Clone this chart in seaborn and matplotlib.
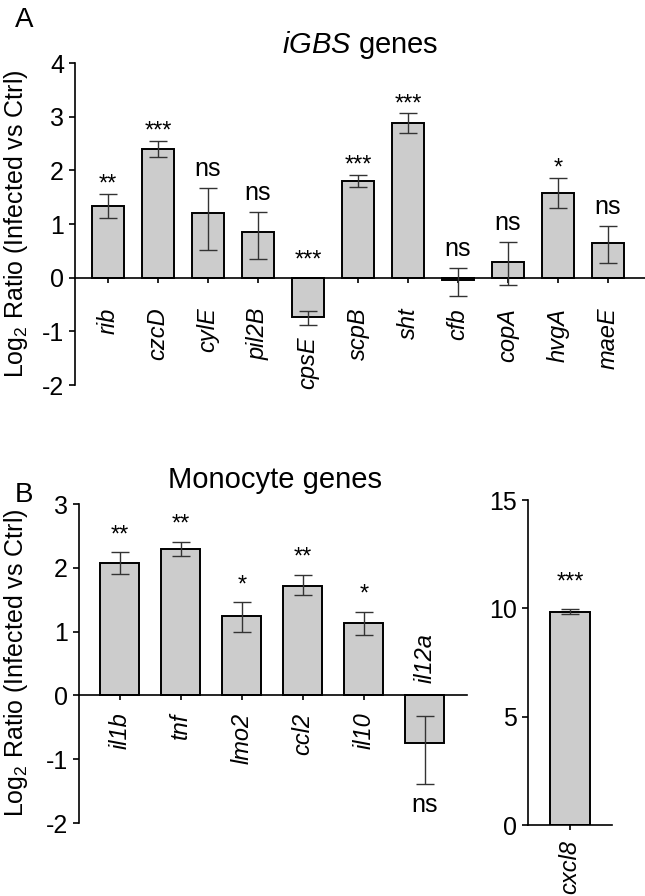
import matplotlib
matplotlib.use('Agg')
import matplotlib.pyplot as plt
import numpy as np
import pandas as pd
import seaborn as sns

# values (log2 ratio, mean with error limits)
genes_a = ['rib', 'czcD', 'cylE', 'pil2B', 'cpsE', 'scpB', 'sht', 'cfb', 'copA', 'hvgA', 'maeE']
mean_a = [1.34, 2.39, 1.20, 0.85, -0.74, 1.81, 2.89, -0.05, 0.30, 1.58, 0.64]
low_a = [1.12, 2.24, 0.52, 0.34, -0.875, 1.69, 2.70, -0.35, -0.14, 1.29, 0.28]
high_a = [1.56, 2.55, 1.67, 1.23, -0.63, 1.92, 3.06, 0.18, 0.66, 1.86, 0.96]
sig_a = ['**', '***', 'ns', 'ns', '***', '***', '***', 'ns', 'ns', '*', 'ns']

genes_b = ['il1b', 'tnf', 'lmo2', 'ccl2', 'il10', 'il12a']
mean_b = [2.07, 2.29, 1.24, 1.72, 1.13, -0.74]
low_b = [1.91, 2.18, 0.99, 1.57, 0.94, -1.39]
high_b = [2.24, 2.41, 1.46, 1.89, 1.31, -0.32]
sig_b = ['**', '**', '*', '**', '*', 'ns']

genes_c = ['cxcl8']
mean_c = [9.83]
low_c = [9.72]
high_c = [9.98]
sig_c = ['***']

sns.set_style('ticks')
plt.rcParams['font.family'] = ['Liberation Sans', 'DejaVu Sans']
plt.rcParams['mathtext.fontset'] = 'custom'
plt.rcParams['mathtext.rm'] = 'Liberation Sans'
plt.rcParams['mathtext.it'] = 'Liberation Sans:italic'
plt.rcParams['axes.unicode_minus'] = False
for key in ['text.color', 'axes.labelcolor', 'axes.edgecolor', 'xtick.color', 'ytick.color']:
    plt.rcParams[key] = 'black'

W, H = 645, 896
fig = plt.figure(figsize=(W / 100, H / 100), dpi=100)
axA = fig.add_axes([75 / W, 1 - 385 / H, 570 / W, 322 / H])
axB = fig.add_axes([79 / W, 1 - 823 / H, 388 / W, 319 / H])
axC = fig.add_axes([528 / W, 1 - 825 / H, 84 / W, 325 / H])


def draw_bars(ax, genes, mean, low, high):
    df = pd.DataFrame({'gene': genes, 'value': mean})
    sns.barplot(data=df, x='gene', y='value', order=genes, color='#cccccc',
                saturation=1, edgecolor='black', linewidth=1.4, width=0.64,
                errorbar=None, ax=ax)
    x = np.arange(len(genes))
    m = np.array(mean)
    ax.errorbar(x, m, yerr=[m - np.array(low), np.array(high) - m], fmt='none',
                ecolor='#333333', elinewidth=1.0, capsize=6.5, capthick=1.0, zorder=5)
    ax.set_xlabel('')
    ax.set_ylabel('')
    ax.spines[['top', 'right']].set_visible(False)
    for s in ['left', 'bottom']:
        ax.spines[s].set_linewidth(1.2)
    ax.tick_params(axis='y', labelsize=18, length=4, width=1.2, pad=4)
    ax.tick_params(axis='x', labelbottom=False, length=3.6, width=1.2)


def annotate(ax, genes, mean, low, high, sig, star_gap, ns_gap):
    for i, g in enumerate(genes):
        size = 18 if sig[i] == 'ns' else 17
        if mean[i] < 0 and sig[i] == 'ns' and ax is axB:
            # il12a: significance under the bar
            ax.annotate(sig[i], (i, low[i]), xytext=(0, -28), textcoords='offset pixels',
                        ha='center', va='baseline', fontsize=size)
            continue
        gap = ns_gap if sig[i] == 'ns' else star_gap
        if mean[i] < 0 and sig[i] != 'ns':
            gap += 8
        ax.annotate(sig[i], (i, max(high[i], 0)), xytext=(0, gap),
                    textcoords='offset pixels', ha='center', va='baseline', fontsize=size)


def gene_labels(ax, genes, mean, low, base_off, gap_below):
    ppu = ax.transData.transform((0, 1))[1] - ax.transData.transform((0, 0))[1]
    for i, g in enumerate(genes):
        if ax is axB and mean[i] < 0:
            ax.annotate(g, (i, 0), xytext=(0, 12), textcoords='offset pixels',
                        rotation=90, ha='center', va='bottom', fontsize=17,
                        style='italic', annotation_clip=False)
            continue
        off = base_off
        if low[i] < 0:
            off = max(base_off, -low[i] * ppu + gap_below)
        ax.annotate(g, (i, 0), xytext=(0, -off), textcoords='offset pixels',
                    rotation=90, ha='center', va='top', fontsize=17,
                    style='italic', annotation_clip=False)


# panel A
draw_bars(axA, genes_a, mean_a, low_a, high_a)
axA.set_ylim(-2, 4)
axA.set_yticks(range(-2, 5))
axA.set_xlim(-0.66, 10.74)
axA.spines['bottom'].set_position(('data', 0))
annotate(axA, genes_a, mean_a, low_a, high_a, sig_a, 3, 12)
gene_labels(axA, genes_a, mean_a, low_a, 30, 12)

# panel B, left
draw_bars(axB, genes_b, mean_b, low_b, high_b)
axB.set_ylim(-2, 3)
axB.set_yticks(range(-2, 4))
axB.set_xlim(-0.67, 5.69)
axB.spines['bottom'].set_position(('data', 0))
annotate(axB, genes_b, mean_b, low_b, high_b, sig_b, 11, 12)
gene_labels(axB, genes_b, mean_b, low_b, 17, 12)

# panel B, right
draw_bars(axC, genes_c, mean_c, low_c, high_c)
axC.set_ylim(0, 15)
axC.set_yticks([0, 5, 10, 15])
axC.set_xlim(-0.66, 0.66)
annotate(axC, genes_c, mean_c, low_c, high_c, sig_c, 20, 12)
gene_labels(axC, genes_c, mean_c, low_c, 15, 12)

ylab = r'$\mathregular{Log_2}$ Ratio (Infected vs Ctrl)'
fig.text(16 / W, 1 - 224 / H, ylab, rotation=90, ha='center', va='center', fontsize=18)
fig.text(16 / W, 1 - 663 / H, ylab, rotation=90, ha='center', va='center', fontsize=18)

fig.text(360 / W, 1 - 53 / H, r'$\mathit{iGBS}$ genes', ha='center', va='baseline', fontsize=21)
fig.text(275 / W, 1 - 488 / H, 'Monocyte genes', ha='center', va='baseline', fontsize=21)

fig.text(24 / W, 1 - 27 / H, 'A', ha='center', va='baseline', fontsize=20)
fig.text(24 / W, 1 - 502 / H, 'B', ha='center', va='baseline', fontsize=20)

fig.savefig('out.png', dpi=100)
